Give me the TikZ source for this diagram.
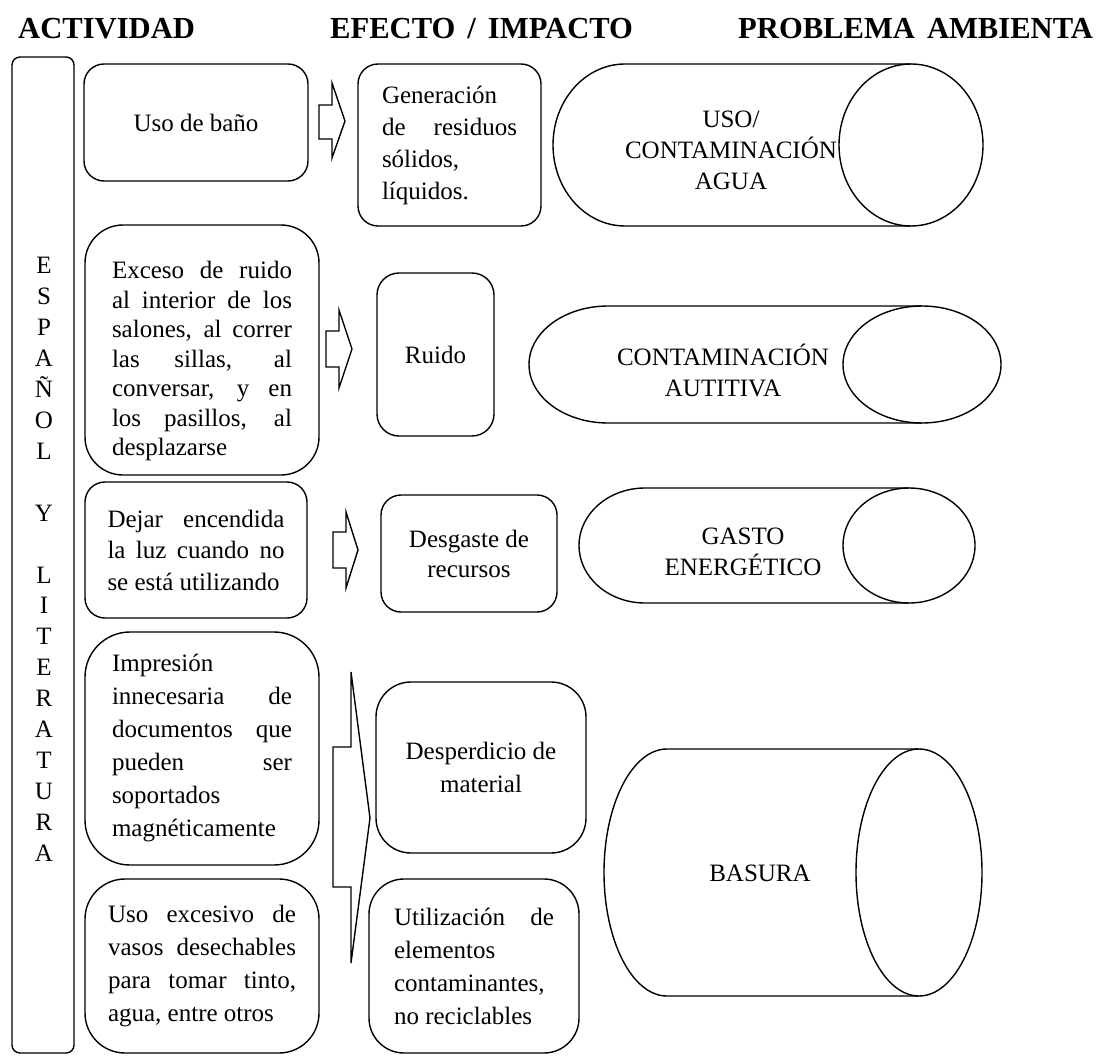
\documentclass[tikz,border=0pt]{standalone}
\usepackage{fontspec}
\setmainfont{Liberation Serif}
% body text at a given line spacing
\newcommand\txt[1]{\fontsize{25}{#1}\selectfont}
\newcommand\headfont{\fontsize{30.6}{34}\selectfont\bfseries\spaceskip=12pt\relax}
% draws a lying cylinder: #1 left-end centre x, #2 right-end centre x, #3 centre y, #4 x radius, #5 y radius
\newcommand\drum[5]{%
  \draw[outline] (#2,{#3-#5}) -- (#1,{#3-#5})
    arc[start angle=90, end angle=270, x radius=#4pt, y radius=#5pt]
    -- (#2,{#3+#5});
  \draw[outline] (#2,#3) ellipse[x radius=#4pt, y radius=#5pt];
}
\begin{document}
\hyphenpenalty=10000 \exhyphenpenalty=10000 \tolerance=10000 \hbadness=10000
\begin{tikzpicture}[x=1pt, y=-1pt,
  outline/.style={draw, line width=1.4pt, line join=miter},
  rbox/.style={outline, rounded corners=#1, inner sep=0pt, align=center, font={\txt{33}}},
  jtext/.style={text width=#1, align=justify},
  heading/.style={anchor=base west, font=\headfont, inner sep=0pt},
  letter/.style={anchor=base, font={\txt{30}}, inner sep=0pt},
  label/.style={align=center, font={\txt{31}}, inner sep=0pt}]
\useasboundingbox (0,0) rectangle (1100,1059);

% column headings
\node[heading] (h1) at (18,39) {ACTIVIDAD};
\node[heading] (h2) at (330,39) {EFECTO / IMPACTO};
\node[heading] (h3) at (738,39) {PROBLEMA AMBIENTA};

% subject column
\node[rbox=8pt, minimum width=62pt, minimum height=996pt] (subj) at (43,555) {};
\foreach \i/\ch in {0/E,1/S,2/P,3/A,4/Ñ,5/O,6/L,8/Y,10/L,11/I,12/T,13/E,14/R,15/A,16/T,17/U,18/R,19/A}
  \node[letter] (l\i) at (44,{274+\i*30.9}) {\ch};

% activities
\node[rbox=20pt, minimum width=224pt, minimum height=117pt] (bano) at (196,122.5) {Uso de baño};
\node[rbox=38pt, minimum width=234pt, minimum height=250pt] (ruidoact) at (202,350) {};
\node[jtext=180pt, font={\txt{29.5}}, inner sep=0pt] (ruidotxt) at (202,361)
  {Exceso de ruido\linebreak al interior de los\linebreak salones, al correr\linebreak las sillas, al\linebreak conversar, y en\linebreak los pasillos, al\linebreak desplazarse};
\node[rbox=20pt, minimum width=222pt, minimum height=136pt, jtext=177pt, font={\txt{31.5}}] (luz) at (196,550)
  {Dejar encendida\linebreak la luz cuando no\linebreak se está utilizando};
\node[rbox=45pt, minimum width=234pt, minimum height=233pt, jtext=180pt] (impr) at (202,748.5)
  {Impresión\newline innecesaria de\linebreak documentos que\linebreak pueden ser\linebreak soportados\newline magnéticamente};
\node[rbox=40pt, minimum width=234pt, minimum height=174pt, jtext=188pt] (vasos) at (202,966)
  {Uso excesivo de\linebreak vasos desechables\linebreak para tomar tinto,\linebreak agua, entre otros};

% effects
\node[rbox=20pt, minimum width=183pt, minimum height=162pt, jtext=135pt, font={\txt{32}}] (resid) at (449.5,145)
  {Generación\newline de residuos\linebreak sólidos,\newline líquidos.};
\node[rbox=22pt, minimum width=117pt, minimum height=163pt] (ruido) at (435.5,354.5) {Ruido};
\node[rbox=20pt, minimum width=176pt, minimum height=117pt, font={\txt{30}}] (desg) at (469,553.5) {Desgaste de\\recursos};
\node[rbox=35pt, minimum width=210pt, minimum height=171pt] (desp) at (481,767.5) {Desperdicio de\\material};
\node[rbox=35pt, minimum width=210pt, minimum height=174pt, jtext=160pt] (util) at (474,966)
  {Utilización de\linebreak elementos\newline contaminantes,\newline no reciclables};

% block arrows
\draw[outline] (319,105) -- (332,105) -- (332,83) -- (345,121) -- (332,158) -- (332,139) -- (319,139) -- cycle;
\draw[outline] (326,331) -- (339,331) -- (339,310) -- (352,349) -- (339,388) -- (339,367) -- (326,367) -- cycle;
\draw[outline] (333,532) -- (346,532) -- (346,512) -- (358,550) -- (346,588) -- (346,568) -- (333,568) -- cycle;
\draw[outline] (333,747) -- (351,747) -- (351,672) -- (370,818) -- (351,963) -- (351,887) -- (333,887) -- cycle;

% environmental problems
\drum{625}{911}{145}{72}{81}
\node[label] (agua) at (731,150) {USO/\\CONTAMINACIÓN\\AGUA};
\drum{608}{922}{364.5}{79}{58.5}
\node[label] (audit) at (723,370) {CONTAMINACIÓN\\AUTITIVA};
\drum{645}{909}{545.5}{66}{57.5}
\node[label] (gasto) at (743,552) {GASTO\\ENERGÉTICO};
\drum{667}{919}{872.5}{63}{123.5}
\node[label] (basura) at (760,873) {BASURA};
\end{tikzpicture}
\end{document}
